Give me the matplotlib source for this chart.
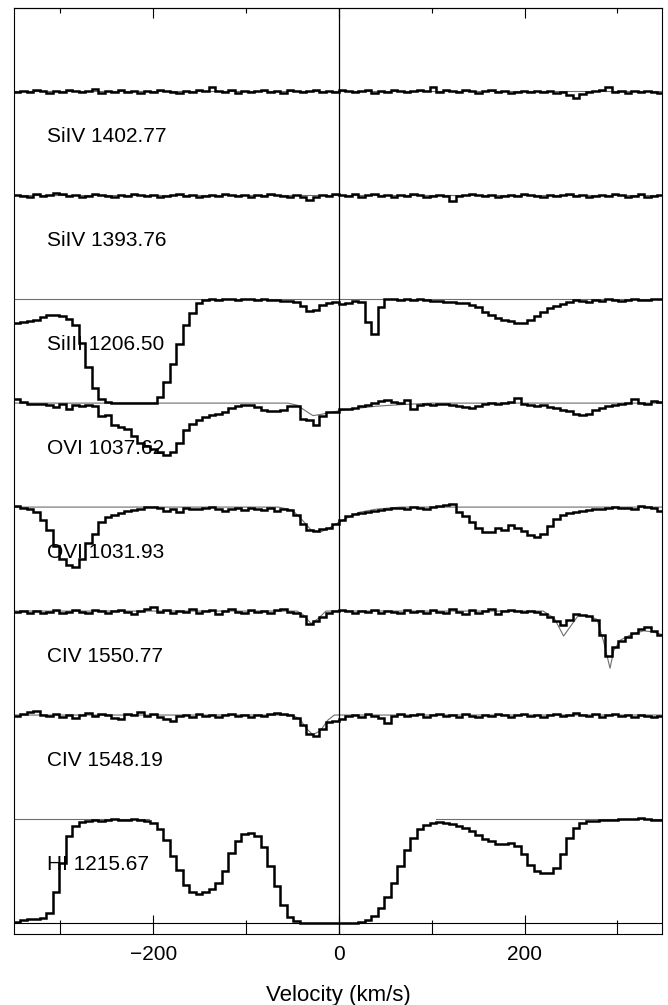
import matplotlib
matplotlib.use("Agg")
import numpy as np
import matplotlib.pyplot as plt

plt.rcParams['font.family'] = ['Liberation Sans', 'DejaVu Sans']

# velocity bin edges (km/s), 7 km/s bins
edges = np.linspace(-350, 350, 101)

labels = ["HI 1215.67", "CIV 1548.19", "CIV 1550.77", "OVI 1031.93",
          "OVI 1037.62", "SiIII 1206.50", "SiIV 1393.76", "SiIV 1402.77"]

# normalised flux per bin, rows of 70 km/s
hi = [0.01, 0.03, 0.04, 0.04, 0.05, 0.10, 0.30, 0.58, 0.84, 0.93,
      0.97, 0.98, 0.99, 0.98, 0.99, 1.00, 0.99, 0.99, 1.00, 0.99,
      0.98, 0.96, 0.90, 0.80, 0.64, 0.51, 0.37, 0.30, 0.28, 0.30,
      0.33, 0.38, 0.50, 0.67, 0.79, 0.86, 0.87, 0.84, 0.73, 0.55,
      0.36, 0.17, 0.06, 0.02, 0.00, 0.00, 0.00, 0.00, 0.00, 0.00,
      0.00, 0.00, 0.00, 0.01, 0.03, 0.07, 0.14, 0.25, 0.38, 0.55,
      0.70, 0.82, 0.90, 0.94, 0.96, 0.97, 0.96, 0.95, 0.93, 0.91,
      0.88, 0.85, 0.81, 0.79, 0.76, 0.76, 0.77, 0.74, 0.66, 0.56,
      0.50, 0.48, 0.48, 0.53, 0.66, 0.82, 0.91, 0.96, 0.98, 0.98,
      0.99, 0.99, 0.99, 1.00, 1.00, 1.00, 1.01, 1.00, 0.99, 0.99]

civ1548 = [0.99, 1.01, 1.03, 1.04, 1.00, 0.99, 1.01, 0.98, 1.00, 0.97,
           1.00, 1.02, 0.99, 1.01, 1.00, 0.97, 0.96, 1.01, 1.00, 1.03,
           0.99, 1.01, 0.98, 0.96, 0.94, 0.99, 1.00, 0.98, 1.01, 0.99,
           1.00, 0.98, 1.00, 1.01, 0.99, 1.00, 0.98, 1.00, 0.99, 1.01,
           1.02, 1.01, 1.00, 0.97, 0.90, 0.82, 0.80, 0.87, 0.93, 0.94,
           0.96, 0.99, 1.00, 0.98, 1.01, 0.99, 0.97, 0.92, 0.99, 1.01,
           0.99, 1.00, 1.01, 0.98, 1.00, 1.01, 0.99, 1.00, 0.98, 1.01,
           0.99, 0.98, 1.00, 0.99, 1.01, 1.00, 0.98, 1.00, 1.01, 0.99,
           1.00, 0.98, 1.00, 1.01, 0.99, 1.00, 1.02, 1.00, 0.99, 1.01,
           0.98, 1.00, 1.01, 0.99, 1.00, 0.98, 1.00, 0.99, 0.98, 0.99]

civ1550 = [0.99, 1.00, 0.98, 1.00, 0.98, 0.99, 1.01, 0.98, 0.99, 1.01,
           0.99, 0.98, 1.01, 1.00, 0.98, 1.00, 1.01, 0.99, 0.97, 1.00,
           1.02, 1.04, 0.99, 1.01, 0.98, 1.00, 0.99, 1.02, 0.98, 1.00,
           1.01, 0.97, 1.00, 1.02, 0.99, 0.98, 1.01, 0.99, 1.00, 0.98,
           1.01, 1.02, 0.99, 0.98, 0.95, 0.88, 0.90, 0.94, 0.98, 1.00,
           1.01, 1.00, 0.98, 1.00, 0.99, 1.01, 0.98, 1.00, 0.99, 0.98,
           1.01, 0.99, 1.00, 0.98, 1.01, 0.99, 0.98, 1.02, 0.99, 0.97,
           1.01, 0.98, 1.00, 1.02, 0.97, 1.00, 1.01, 1.00, 0.99, 1.00,
           0.99, 0.97, 0.94, 0.90, 0.87, 0.91, 0.97, 0.96, 0.95, 0.91,
           0.77, 0.57, 0.65, 0.71, 0.75, 0.79, 0.83, 0.85, 0.81, 0.77]

ovi1031 = [1.01, 0.99, 0.98, 0.95, 0.88, 0.78, 0.63, 0.50, 0.44, 0.42,
           0.50, 0.65, 0.74, 0.86, 0.90, 0.92, 0.94, 0.96, 0.97, 0.98,
           1.00, 1.00, 0.99, 0.96, 0.98, 0.95, 0.99, 0.98, 0.98, 0.99,
           1.00, 0.98, 0.96, 0.98, 0.99, 0.97, 0.99, 0.98, 0.97, 0.99,
           0.96, 0.98, 0.97, 0.92, 0.84, 0.78, 0.77, 0.79, 0.80, 0.84,
           0.88, 0.91, 0.93, 0.94, 0.95, 0.96, 0.97, 0.98, 0.99, 0.99,
           0.98, 1.00, 0.99, 0.98, 1.00, 1.01, 1.02, 1.03, 0.95, 0.91,
           0.86, 0.80, 0.76, 0.76, 0.80, 0.78, 0.83, 0.80, 0.77, 0.73,
           0.71, 0.74, 0.82, 0.89, 0.92, 0.94, 0.95, 0.96, 0.97, 0.98,
           0.98, 0.99, 1.00, 0.99, 0.99, 0.98, 1.01, 1.00, 0.99, 0.96]

ovi1037 = [1.04, 1.01, 0.99, 0.99, 0.99, 0.98, 0.96, 0.99, 0.94, 0.98,
           0.97, 0.98, 0.97, 0.88, 0.89, 0.79, 0.77, 0.75, 0.68, 0.62,
           0.59, 0.56, 0.53, 0.50, 0.53, 0.62, 0.74, 0.80, 0.84, 0.87,
           0.89, 0.90, 0.91, 0.95, 0.97, 0.98, 0.98, 0.96, 0.93, 0.92,
           0.92, 0.93, 0.97, 0.97, 0.85, 0.84, 0.79, 0.88, 0.91, 0.91,
           0.94, 0.94, 0.95, 0.97, 0.98, 1.00, 1.02, 1.03, 1.01, 1.00,
           1.03, 0.94, 0.98, 0.99, 0.98, 0.99, 0.99, 0.98, 0.97, 0.96,
           0.95, 0.97, 0.99, 1.00, 0.99, 1.00, 1.01, 1.05, 0.99, 0.98,
           0.97, 0.98, 0.96, 0.95, 0.93, 0.92, 0.90, 0.89, 0.90, 0.93,
           0.95, 0.97, 0.98, 0.99, 1.00, 1.04, 1.00, 0.99, 1.02, 1.01]

siiii = [0.77, 0.78, 0.79, 0.80, 0.83, 0.85, 0.85, 0.84, 0.81, 0.75,
         0.58, 0.35, 0.15, 0.04, 0.01, 0.00, 0.00, 0.00, 0.00, 0.00,
         0.00, 0.00, 0.06, 0.20, 0.38, 0.57, 0.75, 0.87, 0.96, 0.99,
         1.00, 0.99, 1.00, 1.00, 0.99, 1.00, 1.00, 0.99, 1.00, 0.99,
         0.99, 0.98, 0.98, 0.97, 0.93, 0.89, 0.90, 0.94, 0.96, 0.97,
         0.95, 0.96, 0.98, 0.97, 0.78, 0.66, 0.92, 1.00, 1.00, 0.99,
         1.00, 0.99, 1.00, 0.99, 0.98, 0.98, 0.97, 0.97, 0.96, 0.96,
         0.94, 0.92, 0.88, 0.85, 0.82, 0.80, 0.79, 0.77, 0.77, 0.80,
         0.84, 0.88, 0.91, 0.93, 0.95, 0.97, 0.99, 0.98, 0.97, 0.99,
         0.98, 1.00, 0.99, 0.98, 0.99, 1.00, 0.99, 0.99, 1.00, 1.00]

siiv1393 = [1.00, 0.99, 0.98, 1.01, 0.99, 1.00, 1.02, 1.01, 0.99, 1.00,
            0.98, 0.99, 1.01, 1.00, 0.99, 0.98, 1.00, 0.99, 1.01, 1.00,
            0.99, 1.00, 0.98, 0.99, 1.00, 1.01, 0.99, 1.00, 0.98, 0.99,
            1.00, 0.99, 1.01, 1.00, 0.99, 1.00, 0.98, 1.00, 0.99, 1.01,
            1.00, 0.99, 0.98, 1.00, 0.98, 0.95, 0.98, 1.00, 0.99, 1.01,
            1.00, 0.99, 1.01, 0.98, 1.00, 1.01, 0.99, 1.00, 0.98, 1.00,
            0.99, 1.01, 1.00, 0.98, 0.99, 1.00, 0.99, 0.94, 0.99, 1.00,
            1.01, 1.00, 0.99, 1.00, 0.98, 0.99, 1.00, 0.99, 1.01, 1.00,
            0.99, 0.98, 1.00, 0.99, 1.00, 1.01, 0.99, 1.00, 0.98, 0.99,
            1.00, 0.99, 1.01, 1.00, 0.98, 0.99, 1.01, 0.98, 0.99, 1.00]

siiv1402 = [0.99, 1.00, 0.99, 1.01, 1.00, 0.98, 1.00, 0.99, 1.01, 1.00,
            0.99, 1.00, 1.02, 0.98, 1.00, 0.99, 1.01, 0.99, 1.00, 0.98,
            1.00, 0.99, 1.01, 1.00, 0.99, 0.98, 1.00, 0.99, 1.01, 1.00,
            1.04, 1.00, 0.99, 1.01, 0.98, 1.00, 0.99, 1.00, 1.01, 0.99,
            1.00, 0.98, 1.01, 1.00, 0.99, 1.00, 1.01, 0.99, 1.00, 0.99,
            1.01, 1.00, 0.99, 1.00, 1.01, 0.98, 1.00, 0.99, 1.01, 1.00,
            0.99, 1.00, 1.01, 1.00, 1.04, 0.99, 1.01, 1.00, 0.99, 1.01,
            1.00, 0.98, 1.00, 1.01, 0.99, 1.00, 0.98, 0.99, 1.00, 0.99,
            1.00, 0.99, 1.00, 0.98, 0.99, 0.96, 0.93, 0.97, 0.99, 1.00,
            1.01, 1.04, 0.99, 1.00, 0.98, 1.00, 0.99, 1.00, 0.99, 0.98]

# fitted models (thin grey)
hi_mv = [-350, -205, -50, 105, 350]
hi_mf = [1, 1, np.nan, 1, 1]
civ1548_mv = [-350, -50, -42, -35, -28, -20, -12, -5, 350]
civ1548_mf = [1, 1, 0.96, 0.87, 0.81, 0.85, 0.95, 1, 1]
civ1550_mv = [-350, -45, -38, -30, -22, -14, 220, 232, 242, 250, 258, 270,
              278, 285, 292, 296, 303, 314, 328, 338, 350]
civ1550_mf = [1, 1, 0.96, 0.88, 0.93, 1, 1, 0.93, 0.76, 0.86, 0.96, 0.95,
              0.92, 0.71, 0.45, 0.62, 0.72, 0.77, 0.81, 0.80, 0.77]
ovi1031_mv = [-350, -65, -50, -40, -30, -20, -10, 0, 10, 22, 40, 66, 350]
ovi1031_mf = [1, 1, 0.97, 0.88, 0.78, 0.76, 0.80, 0.855, 0.90, 0.95, 0.98, 1, 1]
ovi1037_mv = [-350, -55, -45, -35, -28, -20, -10, 0, 20, 40, 66, 100, 350]
ovi1037_mf = [1, 1, 0.98, 0.92, 0.88, 0.89, 0.91, 0.925, 0.95, 0.97, 0.985, 1, 1]
flat_mv = [-350, 350]
flat_mf = [1, 1]

spectra = [hi, civ1548, civ1550, ovi1031, ovi1037, siiii, siiv1393, siiv1402]
models = [(hi_mv, hi_mf), (civ1548_mv, civ1548_mf), (civ1550_mv, civ1550_mf),
          (ovi1031_mv, ovi1031_mf), (ovi1037_mv, ovi1037_mf),
          (flat_mv, flat_mf), (flat_mv, flat_mf), (flat_mv, flat_mf)]

fig = plt.figure(figsize=(6.68, 10.05), dpi=100)
ax = fig.add_axes([14/668, 71/1005, 648/668, 926/1005])

for i, (flux, (mv, mf), lab) in enumerate(zip(spectra, models, labels)):
    ax.plot(mv, np.array(mf, dtype=float) + i, color='#6e6e6e', lw=0.8, zorder=2)
    ax.stairs(np.array(flux) + i, edges, baseline=None, color='k', lw=1.8, zorder=3)
    ax.text(-314, i + 0.56, lab, fontsize=15, va='center', ha='left', zorder=1)

ax.axhline(0, color='k', lw=0.8, zorder=2)
ax.axvline(0, color='k', lw=0.9, zorder=2)

ax.set_xlim(-350, 348)
ax.set_ylim(-0.106, 8.80)
ax.set_yticks([])
ax.set_xticks([-200, 0, 200])
ax.set_xticks([-300, -100, 100, 300], minor=True)
ax.tick_params(axis='x', which='major', direction='in', length=13.7, width=0.8,
               labelsize=15, pad=8)
ax.tick_params(axis='x', which='minor', direction='in', length=10, width=0.8)
for s in ax.spines.values():
    s.set_linewidth(0.8)

top = ax.secondary_xaxis('top')
top.set_xticks([-200, 0, 200])
top.set_xticks([-300, -100, 100, 300], minor=True)
top.tick_params(which='major', direction='in', length=7.2, width=0.8, labeltop=False)
top.tick_params(which='minor', direction='in', length=3.6, width=0.8)

ax.set_xlabel('Velocity (km/s)', fontsize=16, labelpad=15)

fig.savefig('out.png', dpi=100)
